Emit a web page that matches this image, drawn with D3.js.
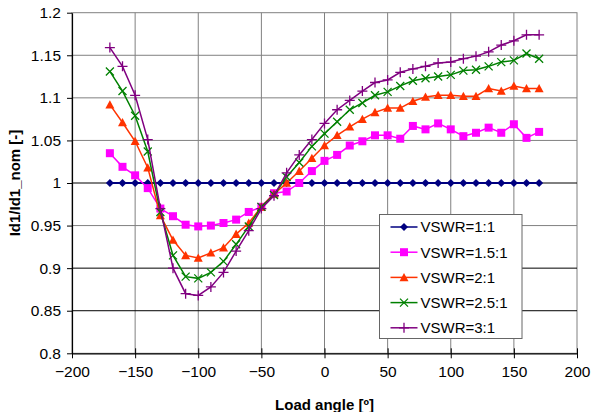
<!DOCTYPE html>
<html>
<head>
<meta charset="utf-8">
<script src="https://cdn.jsdelivr.net/npm/d3@7"></script>
<style>
  body { margin: 0; background: #fff; }
  text { font-family: "Liberation Sans", Arial, sans-serif; fill: #000; }
</style>
</head>
<body>
<svg id="chart" width="591" height="412"></svg>
<script>
// load angle in degrees
const angles = [-170, -160, -150, -140, -130, -120, -110, -100, -90, -80, -70, -60, -50, -40, -30, -20, -10,
  0, 10, 20, 30, 40, 50, 60, 70, 80, 90, 100, 110, 120, 130, 140, 150, 160, 170];

const vswr1 = [1, 1, 1, 1, 1, 1, 1, 1, 1, 1, 1, 1, 1, 1, 1, 1, 1,
  1, 1, 1, 1, 1, 1, 1, 1, 1, 1, 1, 1, 1, 1, 1, 1, 1, 1];
const vswr15 = [1.035, 1.019, 1.009, 0.994, 0.970, 0.961, 0.951, 0.949, 0.950, 0.953, 0.957, 0.966, 0.972, 0.988, 0.990, 1.000, 1.014,
  1.026, 1.033, 1.044, 1.049, 1.056, 1.056, 1.052, 1.067, 1.063, 1.070, 1.063, 1.055, 1.059, 1.065, 1.059, 1.069, 1.053, 1.060];
const vswr2 = [1.092, 1.071, 1.049, 1.018, 0.962, 0.933, 0.915, 0.912, 0.918, 0.924, 0.940, 0.953, 0.972, 0.987, 1.000, 1.014, 1.029,
  1.044, 1.056, 1.066, 1.075, 1.083, 1.088, 1.088, 1.096, 1.101, 1.103, 1.103, 1.102, 1.102, 1.111, 1.108, 1.114, 1.111, 1.111];
const vswr25 = [1.131, 1.108, 1.079, 1.037, 0.966, 0.915, 0.890, 0.888, 0.895, 0.908, 0.928, 0.949, 0.972, 0.986, 1.007, 1.024, 1.043,
  1.058, 1.072, 1.086, 1.094, 1.103, 1.107, 1.114, 1.120, 1.123, 1.125, 1.127, 1.132, 1.133, 1.137, 1.142, 1.144, 1.152, 1.146];
const vswr3 = [1.159, 1.137, 1.103, 1.051, 0.970, 0.900, 0.870, 0.868, 0.878, 0.895, 0.920, 0.944, 0.970, 0.985, 1.012, 1.033, 1.051,
  1.070, 1.086, 1.097, 1.108, 1.118, 1.121, 1.130, 1.134, 1.137, 1.141, 1.142, 1.146, 1.149, 1.154, 1.162, 1.167, 1.174, 1.174];

const seriesNames = ["VSWR=1:1", "VSWR=1.5:1", "VSWR=2:1", "VSWR=2.5:1", "VSWR=3:1"];
const seriesValues = [vswr1, vswr15, vswr2, vswr25, vswr3];

const xTicks = [-200, -150, -100, -50, 0, 50, 100, 150, 200];
const yTicks = [0.8, 0.85, 0.9, 0.95, 1, 1.05, 1.1, 1.15, 1.2];
// gridlines that show as solid black in the picture
const darkGrid = [0.85, 0.9, 1];

const colors = ["#000080", "#ff00ff", "#ff3300", "#008000", "#800080"];
const markers = ["diamond", "square", "triangle", "cross", "plus"];

const width = 591, height = 412;
const margin = { top: 12.7, right: 14, bottom: 58.7, left: 72 };

const svg = d3.select("#chart");

const xScale = d3.scaleLinear()
  .domain([-200, 200])
  .range([margin.left, width - margin.right]);

const yScale = d3.scaleLinear()
  .domain([0.8, 1.2])
  .range([height - margin.bottom, margin.top]);

// plot area frame (top/right are grey)
svg.append("rect")
  .attr("x", xScale(-200))
  .attr("y", yScale(1.2))
  .attr("width", xScale(200) - xScale(-200))
  .attr("height", yScale(0.8) - yScale(1.2))
  .attr("fill", "#fff")
  .attr("stroke", "#808080")
  .attr("stroke-width", 1);

// vertical gridlines
svg.append("g").selectAll("line")
  .data(xTicks.slice(1, -1))
  .join("line")
  .attr("x1", d => xScale(d)).attr("x2", d => xScale(d))
  .attr("y1", yScale(0.8)).attr("y2", yScale(1.2))
  .attr("stroke", "#808080")
  .attr("stroke-width", 1);

// horizontal gridlines
svg.append("g").selectAll("line")
  .data(yTicks.slice(1, -1))
  .join("line")
  .attr("x1", xScale(-200)).attr("x2", xScale(200))
  .attr("y1", d => yScale(d)).attr("y2", d => yScale(d))
  .attr("stroke", d => darkGrid.includes(d) ? "#000" : "#808080")
  .attr("stroke-width", 1);

// axes
const xAxis = svg.append("g")
  .attr("transform", `translate(0, ${yScale(0.8)})`)
  .call(d3.axisBottom(xScale).tickValues(xTicks).tickSize(5).tickSizeOuter(0).tickPadding(8));

const yAxis = svg.append("g")
  .attr("transform", `translate(${xScale(-200)}, 0)`)
  .call(d3.axisLeft(yScale).tickValues(yTicks).tickSize(5).tickSizeOuter(0).tickPadding(6)
    .tickFormat(d3.format("")));

[xAxis, yAxis].forEach(ax => {
  ax.select(".domain").attr("stroke", "#000").attr("stroke-width", 1.2);
  ax.selectAll(".tick line").attr("stroke", "#000");
  ax.selectAll(".tick text")
    .style("font-family", "'Liberation Sans', Arial, sans-serif")
    .style("font-size", "15.5px")
    .attr("fill", "#000");
});
// x ticks cross the axis line
xAxis.selectAll(".tick line").attr("y1", -5);

// axis titles
svg.append("text")
  .attr("x", (xScale(-200) + xScale(200)) / 2)
  .attr("y", 410)
  .attr("text-anchor", "middle")
  .style("font-size", "15px")
  .style("font-weight", "bold")
  .text("Load angle [º]");

svg.append("text")
  .attr("transform", `translate(20, ${(yScale(0.8) + yScale(1.2)) / 2}) rotate(-90)`)
  .attr("text-anchor", "middle")
  .style("font-size", "15px")
  .style("font-weight", "bold")
  .text("Id1/Id1_nom [-]");

// marker drawing helper
function drawMarker(g, type, color) {
  if (type === "diamond") {
    g.append("path").attr("d", "M0,-4L4,0L0,4L-4,0Z").attr("fill", color);
  } else if (type === "square") {
    g.append("rect").attr("x", -4).attr("y", -4).attr("width", 8).attr("height", 8).attr("fill", color);
  } else if (type === "triangle") {
    g.append("path").attr("d", "M0,-4.5L4.5,3.8L-4.5,3.8Z").attr("fill", color);
  } else if (type === "cross") {
    g.append("path").attr("d", "M-4,-4L4,4M-4,4L4,-4").attr("stroke", color).attr("stroke-width", 1.3).attr("fill", "none");
  } else if (type === "plus") {
    g.append("path").attr("d", "M-5,0L5,0M0,-5L0,5").attr("stroke", color).attr("stroke-width", 1.3).attr("fill", "none");
  }
}

const lineGenerator = d3.line()
  .x((d, i) => xScale(angles[i]))
  .y(d => yScale(d));

const seriesG = svg.append("g");
seriesValues.forEach((values, s) => {
  seriesG.append("path")
    .attr("d", lineGenerator(values))
    .attr("fill", "none")
    .attr("stroke", colors[s])
    .attr("stroke-width", s === 0 ? 2 : 1.5);

  seriesG.append("g").selectAll("g")
    .data(values)
    .join("g")
    .attr("transform", (d, i) => `translate(${xScale(angles[i])}, ${yScale(d)})`)
    .each(function () { drawMarker(d3.select(this), markers[s], colors[s]); });
});

// legend
const legend = svg.append("g").attr("transform", "translate(379.5, 214.5)");
legend.append("rect")
  .attr("width", 142.5)
  .attr("height", 124)
  .attr("fill", "#fff")
  .attr("stroke", "#666")
  .attr("stroke-width", 1);

seriesNames.forEach((name, s) => {
  const row = legend.append("g").attr("transform", `translate(0, ${12.5 + s * 25.2})`);
  row.append("line")
    .attr("x1", 11).attr("x2", 38)
    .attr("stroke", colors[s])
    .attr("stroke-width", 1.5);
  drawMarker(row.append("g").attr("transform", "translate(24.5, 0)"), markers[s], colors[s]);
  row.append("text")
    .attr("x", 41)
    .attr("y", 0)
    .attr("dy", "0.36em")
    .style("font-size", "15px")
    .text(name);
});
</script>
</body>
</html>
